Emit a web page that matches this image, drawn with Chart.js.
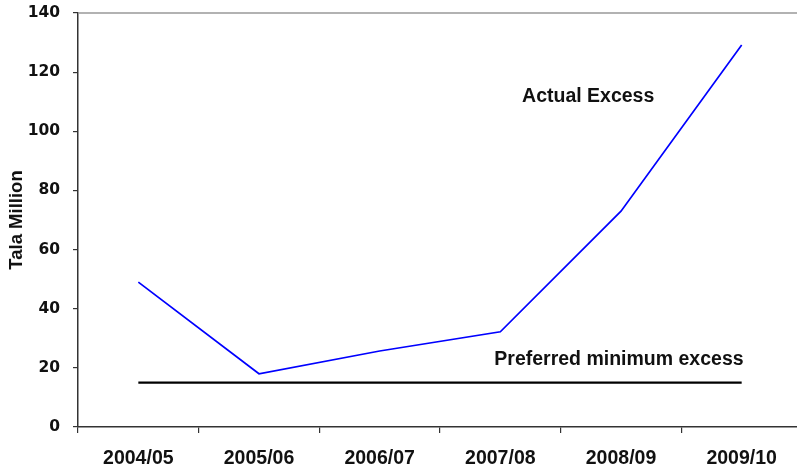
<!DOCTYPE html>
<html>
<head>
<meta charset="utf-8">
<script src="https://cdn.jsdelivr.net/npm/chart.js@4/dist/chart.umd.min.js"></script>
<style>
  html, body { margin: 0; padding: 0; background: #fff; overflow: hidden; }
  #wrap { position: relative; width: 806px; height: 467px; }
</style>
</head>
<body>
<div id="wrap"><canvas id="c"></canvas></div>
<script>
const categories = ['2004/05', '2005/06', '2006/07', '2007/08', '2008/09', '2009/10'];
const actualExcess = [49, 18, 25.7, 32.2, 73, 129.2];
const preferredMinimum = [15, 15, 15, 15, 15, 15];
const yTicks = { min: 0, max: 140, step: 20 };
const annotations = [
  { text: 'Actual Excess', x: 3.18, y: 111.6 },
  { text: 'Preferred minimum excess', x: 2.95, y: 22.7 }
];

const axisColor = '#333333';

const annotationPlugin = {
  id: 'annot',
  afterDatasetsDraw(chart) {
    const ctx = chart.ctx;
    const xs = chart.scales.x, ys = chart.scales.y;
    const a = chart.chartArea;
    ctx.save();
    // top border of plot area
    ctx.strokeStyle = '#999999';
    ctx.lineWidth = 1.5;
    ctx.beginPath();
    ctx.moveTo(a.left, a.top);
    ctx.lineTo(a.right, a.top);
    ctx.stroke();
    ctx.fillStyle = '#111111';
    ctx.font = 'bold 19.5px "Liberation Sans", Arial, sans-serif';
    ctx.textAlign = 'left';
    ctx.textBaseline = 'middle';
    annotations.forEach(an => {
      ctx.fillText(an.text, xs.getPixelForValue(an.x), ys.getPixelForValue(an.y));
    });
    ctx.restore();
  }
};

new Chart(document.getElementById('c'), {
  type: 'line',
  data: {
    labels: categories,
    datasets: [
      {
        label: 'Actual Excess',
        data: actualExcess,
        borderColor: '#0000ff',
        borderWidth: 1.7,
        pointRadius: 0,
        tension: 0,
        fill: false
      },
      {
        label: 'Preferred minimum excess',
        data: preferredMinimum,
        borderColor: '#000000',
        borderWidth: 2.2,
        pointRadius: 0,
        tension: 0,
        fill: false
      }
    ]
  },
  options: {
    responsive: true,
    maintainAspectRatio: false,
    animation: false,
    layout: { padding: { top: 13, right: 4, left: 0, bottom: 0 } },
    plugins: { legend: { display: false }, tooltip: { enabled: false } },
    scales: {
      x: {
        type: 'category',
        offset: true,
        grid: { offset: true, drawOnChartArea: false, tickLength: 6, color: axisColor, lineWidth: 1.2 },
        border: { color: axisColor, width: 1.5 },
        ticks: {
          color: '#111111',
          padding: 14,
          maxRotation: 0,
          font: { family: '"Liberation Sans", Arial, sans-serif', size: 19.5, weight: 'bold' }
        },
        afterFit(scale) { scale.height = 40; scale.paddingLeft = 0; scale.paddingRight = 0; }
      },
      y: {
        min: yTicks.min,
        max: yTicks.max,
        grid: { drawOnChartArea: false, tickLength: 5, color: axisColor, lineWidth: 1.2 },
        border: { color: axisColor, width: 1.5 },
        ticks: {
          stepSize: yTicks.step,
          color: '#111111',
          padding: 13,
          font: { family: '"DejaVu Sans", sans-serif', size: 15.5, weight: 'bold' }
        },
        title: {
          display: true,
          text: 'Tala Million',
          color: '#111111',
          padding: { top: 6, bottom: 0 },
          font: { family: '"Liberation Sans", Arial, sans-serif', size: 18.5, weight: 'bold' }
        },
        afterFit(scale) { scale.width = 78; scale.paddingTop = 0; scale.paddingBottom = 0; }
      }
    }
  },
  plugins: [annotationPlugin]
});
</script>
</body>
</html>
